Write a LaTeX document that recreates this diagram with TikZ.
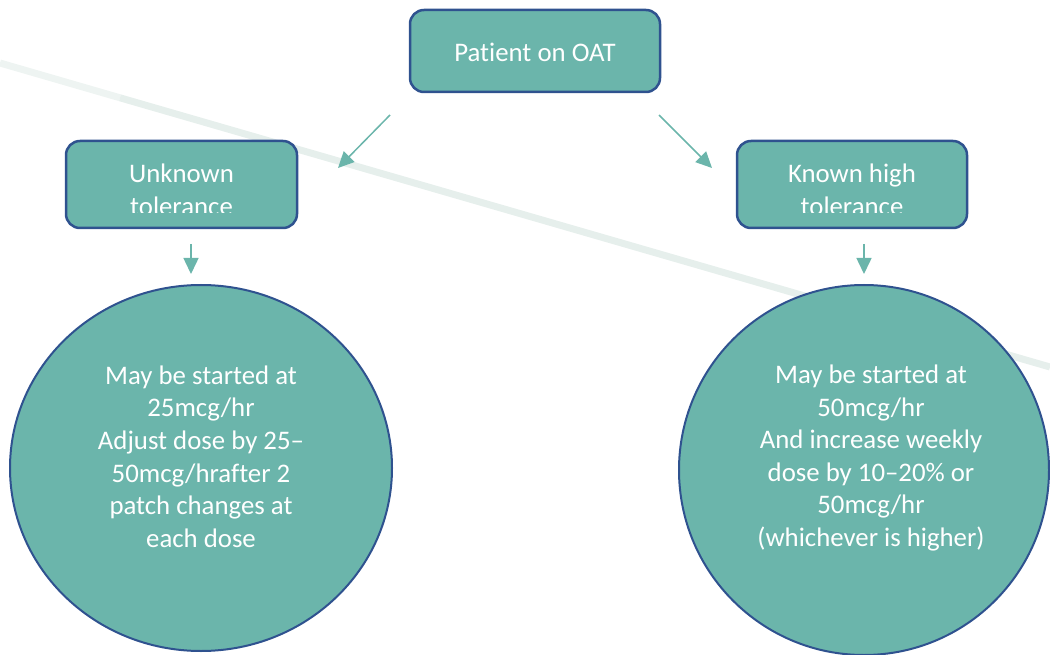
\documentclass[tikz,border=0pt]{standalone}
\usepackage{fontspec}
\setmainfont[Ligatures={NoCommon}]{Carlito}
\usetikzlibrary{arrows.meta,shapes.geometric}
\definecolor{tealfill}{RGB}{107,181,171}
\definecolor{navyline}{RGB}{47,82,143}
\definecolor{wmark}{RGB}{230,239,236}
\definecolor{wmarkl}{RGB}{238,244,242}
\begin{document}
\begin{tikzpicture}[x=1pt,y=-1pt,
  box/.style={draw=navyline, line width=2.5pt, fill=tealfill, rounded corners=14pt, inner sep=0pt},
  txt/.style={text=white, font=\fontsize{26.8}{32.6}\selectfont, align=center, inner sep=0pt},
  arr/.style={draw=tealfill, line width=1.5pt, -{Triangle[length=16pt,width=15pt]}},
  blob/.style={draw=navyline, line width=2pt, fill=tealfill, ellipse, inner sep=0pt}
]
\useasboundingbox (0,0) rectangle (1050,655);
\coordinate (wmA) at (0,63);
\coordinate (wmM) at (120,97.8);
\coordinate (wmB) at (1050,367);
\draw[wmarkl, line width=7pt] (wmA) -- (wmM);
\draw[wmark, line width=7pt] (wmM) -- (wmB);

% top box
\node[box, minimum width=250pt, minimum height=82pt] (top) at (535,51) {};
\node[txt] (toptxt) at (535,52.5) {Patient on OAT};

% left box
\node[box, minimum width=231pt, minimum height=87pt] (left) at (181.5,184.5) {};
\begin{scope}
  \clip (66,141) rectangle (297,213);
  \node[txt] (lefttxt) at (181.5,189.5) {Unknown\\tolerance};
\end{scope}

% right box
\node[box, minimum width=230pt, minimum height=87pt] (right) at (852,184.5) {};
\begin{scope}
  \clip (737,141) rectangle (967,213);
  \node[txt] (righttxt) at (852,189.5) {Known high\\tolerance};
\end{scope}

% circles
\node[blob, minimum width=382pt, minimum height=366pt] (lcirc) at (201,468) {};
\node[txt] (lctxt) at (201,456.5) {May be started at\\25mcg/hr\\Adjust dose by 25–\\50mcg/hrafter 2\\patch changes at\\each dose};

\node[blob, minimum width=370pt, minimum height=370pt] (rcirc) at (864,470) {};
\node[txt] (rctxt) at (871,458) {May be started at\\50mcg/hr\\And increase weekly\\dose by 10–20\% or\\50mcg/hr\\(whichever is higher)};

% arrows
\coordinate (a1s) at (390,115);
\coordinate (a1e) at (338,168);
\coordinate (a2s) at (659,115);
\coordinate (a2e) at (712,168);
\coordinate (a3s) at (191,244);
\coordinate (a3e) at (191,274);
\coordinate (a4s) at (864,244);
\coordinate (a4e) at (864,274);
\draw[arr] (a1s) -- (a1e);
\draw[arr] (a2s) -- (a2e);
\draw[arr] (a3s) -- (a3e);
\draw[arr] (a4s) -- (a4e);
\end{tikzpicture}
\end{document}
